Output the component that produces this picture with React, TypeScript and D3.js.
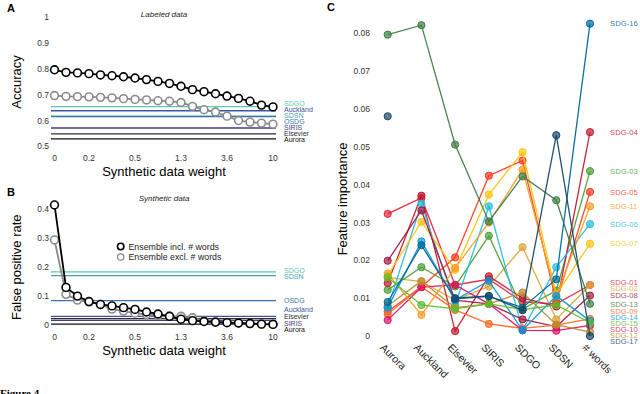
import * as d3 from "d3";
import React from "react";

// ---- data ----
const weightTickIdx = [0, 3, 7, 11, 15, 19];
const weightTickLabels = ["0", "0.2", "0.5", "1.3", "3.6", "10"];

const accInclWords = [0.797, 0.787, 0.785, 0.782, 0.777, 0.774, 0.77, 0.765, 0.759, 0.752, 0.744, 0.733, 0.72, 0.712, 0.704, 0.695, 0.686, 0.675, 0.66, 0.653];
const accExclWords = [0.697, 0.694, 0.693, 0.692, 0.69, 0.688, 0.685, 0.682, 0.68, 0.677, 0.675, 0.67, 0.655, 0.642, 0.633, 0.617, 0.6, 0.594, 0.59, 0.586];
const fprInclWords = [0.415, 0.13, 0.1, 0.081, 0.071, 0.066, 0.06, 0.054, 0.045, 0.038, 0.03, 0.02, 0.015, 0.012, 0.01, 0.008, 0.007, 0.005, 0.003, 0.002];
const fprExclWords = [0.294, 0.106, 0.086, 0.08, 0.071, 0.055, 0.048, 0.041, 0.036, 0.033, 0.03, 0.03, 0.025, 0.014, 0.011, 0.009, 0.007, 0.005, 0.004, 0.003];

const baselineModels = ["SDGO", "Auckland", "SDSN", "OSDG", "SIRIS", "Elsevier", "Aurora"];
const baselineColors = ["#5cc8b0", "#3d55a0", "#46a2b3", "#3a72ad", "#463c86", "#2e2e3a", "#111111"];
const baselineAccuracy = [0.654, 0.638, 0.617, 0.615, 0.571, 0.548, 0.529];
const baselineFpr = [0.184, 0.03, 0.171, 0.084, 0.016, 0.022, 0.003];

const accTicks = [0.5, 0.6, 0.7, 0.8, 0.9, 1];
const fprTicks = [0, 0.1, 0.2, 0.3, 0.4];
const impTicks = [0, 0.01, 0.02, 0.03, 0.04, 0.05, 0.06, 0.07, 0.08];

const featureModels = ["Aurora", "Auckland", "Elsevier", "SIRIS", "SDGO", "SDSN", "# words"];
const sdgNames = ["SDG-01", "SDG-02", "SDG-03", "SDG-04", "SDG-05", "SDG-06", "SDG-07", "SDG-08", "SDG-09", "SDG-10", "SDG-11", "SDG-12", "SDG-13", "SDG-14", "SDG-15", "SDG-16", "SDG-17"];
const sdgColors = ["#e5243b", "#dda63a", "#4c9f38", "#c5192d", "#ff3a21", "#26bde2", "#fcc30b", "#a21942", "#fd6925", "#dd1367", "#fd9d24", "#bf8b2e", "#3f7e44", "#0a97d9", "#56c02b", "#00689d", "#19486a"];

const sdg01 = [0.0323, 0.0365, 0.0135, 0.015, 0.009, 0.0085, 0.0135];
const sdg02 = [0.0155, 0.0144, 0.0095, 0.0131, 0.0235, 0.0044, 0.0135];
const sdg03 = [0.0122, 0.0182, 0.0131, 0.0265, 0.0071, 0.012, 0.0436];
const sdg04 = [0.014, 0.0371, 0.0013, 0.0158, 0.01, 0.0078, 0.0539];
const sdg05 = [0.0065, 0.013, 0.0208, 0.0424, 0.0464, 0.009, 0.0381];
const sdg06 = [0.0075, 0.035, 0.0082, 0.0343, 0.0016, 0.0182, 0.0296];
const sdg07 = [0.016, 0.0302, 0.0175, 0.0374, 0.0486, 0.011, 0.0244];
const sdg08 = [0.0199, 0.0332, 0.0095, 0.0085, 0.0044, 0.0025, 0.0107];
const sdg09 = [0.0058, 0.013, 0.0069, 0.0032, 0.002, 0.0029, 0.0045];
const sdg10 = [0.0042, 0.0129, 0.0135, 0.0085, 0.0015, 0.0014, 0.0028];
const sdg11 = [0.0165, 0.0056, 0.018, 0.03, 0.044, 0.0105, 0.0343];
const sdg12 = [0.008, 0.0145, 0.0075, 0.0085, 0.0115, 0.003, 0.001];
const sdg13 = [0.0797, 0.0822, 0.0506, 0.0303, 0.0422, 0.0359, 0.0085];
const sdg14 = [0.0075, 0.025, 0.0095, 0.0146, 0.0015, 0.0106, 0.004];
const sdg15 = [0.0155, 0.0082, 0.0072, 0.0085, 0.007, 0.0082, 0.0035];
const sdg16 = [0.009, 0.024, 0.0098, 0.0105, 0.0075, 0.015, 0.0826];
const sdg17 = [0.0581, null, 0.01, 0.0106, 0.0068, 0.0531, 0.0];
const sdgSeries: (number | null)[][] = [sdg01, sdg02, sdg03, sdg04, sdg05, sdg06, sdg07, sdg08, sdg09, sdg10, sdg11, sdg12, sdg13, sdg14, sdg15, sdg16, sdg17];

// ---- helpers ----
const FONT = "'Liberation Sans', Arial, sans-serif";

// push overlapping labels apart, keep them near their targets
function dodge(targets: number[], gap: number) {
  const order = targets.map((_, i) => i).sort((a, b) => targets[a] - targets[b]);
  const pos = targets.slice();
  for (let it = 0; it < 300; it++) {
    for (let k = 1; k < order.length; k++) {
      const a = order[k - 1], b = order[k];
      const d = pos[b] - pos[a];
      if (d < gap) {
        const s = (gap - d) / 2;
        pos[a] -= s;
        pos[b] += s;
      }
    }
  }
  return pos;
}

const stepX = d3.scalePoint<number>().domain(d3.range(accInclWords.length)).range([54.5, 273]);

function WeightPanel({ letter, title, top, y, ticks, tickFmt, yLabel, incl, excl, baseline, gap, legend }: any) {
  const line = d3.line<number>().x((_, i) => stepX(i)!).y((d) => y(d));
  const labelY = dodge(baseline.map((v: number) => y(v)), gap);
  const [r0, r1] = y.range();
  return (
    <g>
      <text x={7} y={top + 10} fontFamily={FONT} fontWeight="bold" fontSize={11}>{letter}</text>
      <text x={164} y={top + 15} fontFamily={FONT} fontStyle="italic" fontSize={8} textAnchor="middle" fill="#222">{title}</text>
      {ticks.map((t: number) => (
        <text key={t} x={49} y={y(t)} dy="0.35em" textAnchor="end" fontFamily={FONT} fontSize={8.5} fill="#333">{tickFmt(t)}</text>
      ))}
      {weightTickIdx.map((idx, k) => (
        <text key={idx} x={stepX(idx)} y={r0 + 15} textAnchor="middle" fontFamily={FONT} fontSize={8.5} fill="#333">{weightTickLabels[k]}</text>
      ))}
      <text transform={`translate(21,${(r0 + r1) / 2}) rotate(-90)`} textAnchor="middle" fontFamily={FONT} fontSize={13}>{yLabel}</text>
      <text x={164} y={r0 + 30} textAnchor="middle" fontFamily={FONT} fontSize={13}>Synthetic data weight</text>
      {baseline.map((v: number, i: number) => (
        <g key={baselineModels[i]}>
          <line x1={51} x2={276} y1={y(v)} y2={y(v)} stroke={baselineColors[i]} strokeWidth={1.3} />
          <text x={284} y={labelY[i]} dy="0.35em" fontFamily={FONT} fontSize={7} fill={baselineColors[i]}>{baselineModels[i]}</text>
        </g>
      ))}
      {[{ d: excl, c: "#8a8a8a" }, { d: incl, c: "#000" }].map((s, j) => (
        <g key={j}>
          <path d={line(s.d)!} fill="none" stroke={s.c} strokeWidth={1.8} />
          {s.d.map((v: number, i: number) => (
            <circle key={i} cx={stepX(i)} cy={y(v)} r={3.9} fill="#fff" stroke={s.c} strokeWidth={1.6} />
          ))}
        </g>
      ))}
      {legend && (
        <g fontFamily={FONT} fontSize={8.8} fill="#222">
          <circle cx={120.7} cy={top + 60.5} r={3.2} fill="#fff" stroke="#000" strokeWidth={1.6} />
          <text x={128.5} y={top + 60.5} dy="0.35em">Ensemble incl. # words</text>
          <circle cx={120.7} cy={top + 71} r={3.2} fill="#fff" stroke="#8a8a8a" strokeWidth={1.2} />
          <text x={128.5} y={top + 71} dy="0.35em">Ensemble excl. # words</text>
        </g>
      )}
    </g>
  );
}

function ImportancePanel() {
  const x = d3.scalePoint<string>().domain(featureModels).range([387.7, 590]);
  const y = d3.scaleLinear().domain([0, 0.08]).range([336, 33.5]);
  const line = d3
    .line<number | null>()
    .defined((d) => d !== null)
    .x((_, i) => x(featureModels[i])!)
    .y((d) => y(d as number));
  const last = featureModels.length - 1;
  const labelY = dodge(sdgSeries.map((s) => y(s[last] as number)), 6);
  return (
    <g>
      <text x={327} y={11} fontFamily={FONT} fontWeight="bold" fontSize={11}>C</text>
      {impTicks.map((t) => (
        <text key={t} x={370} y={y(t)} dy="0.35em" textAnchor="end" fontFamily={FONT} fontSize={8.5} fill="#333">{t === 0 ? "0" : d3.format(".2f")(t)}</text>
      ))}
      <text transform="translate(347,199) rotate(-90)" textAnchor="middle" fontFamily={FONT} fontSize={13}>Feature importance</text>
      {featureModels.map((m) => (
        <text key={m} transform={`translate(${x(m)! - 3},343) rotate(45)`} dy="0.7em" fontFamily={FONT} fontSize={10.5} fill="#222">{m}</text>
      ))}
      {sdgSeries.map((s, k) => (
        <g key={sdgNames[k]}>
          <path d={line(s)!} fill="none" stroke={sdgColors[k]} strokeWidth={1.3} strokeOpacity={0.95} />
          {s.map((v, i) =>
            v === null ? null : (
              <circle key={i} cx={x(featureModels[i])} cy={y(v)} r={3.6} fill={sdgColors[k]} fillOpacity={0.7} stroke={sdgColors[k]} strokeWidth={1} />
            )
          )}
          <text x={610} y={labelY[k]} dy="0.35em" fontFamily={FONT} fontSize={7.7} fill={sdgColors[k]} fillOpacity={0.85}>{sdgNames[k]}</text>
        </g>
      ))}
    </g>
  );
}

export default function App() {
  const yAcc = d3.scaleLinear().domain([0.5, 1]).range([146.3, 17.5]);
  const yFpr = d3.scaleLinear().domain([0, 0.4]).range([325, 209.3]);
  return (
    <svg width={640} height={394} style={{ position: "absolute", left: 0, top: 0, background: "#fff" }}>
      <WeightPanel letter="A" title="Labeled data" top={2} y={yAcc} ticks={accTicks} tickFmt={(t: number) => (t === 1 ? "1" : d3.format(".1f")(t))}
        yLabel="Accuracy" incl={accInclWords} excl={accExclWords} baseline={baselineAccuracy} gap={6} legend={false} />
      <WeightPanel letter="B" title="Synthetic data" top={186} y={yFpr} ticks={fprTicks} tickFmt={(t: number) => (t === 0 ? "0" : d3.format(".1f")(t))}
        yLabel="False positive rate" incl={fprInclWords} excl={fprExclWords} baseline={baselineFpr} gap={6.6} legend={true} />
      <ImportancePanel />
      <text x={0} y={397} fontFamily="'Liberation Serif', serif" fontWeight="bold" fontSize={11}>Figure 4</text>
    </svg>
  );
}
